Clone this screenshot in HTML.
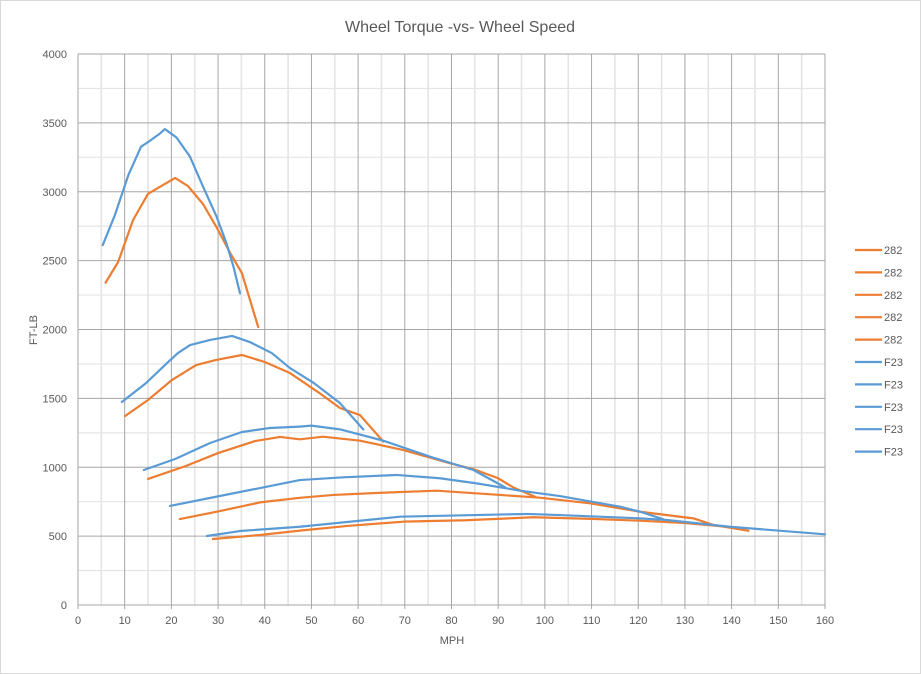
<!DOCTYPE html>
<html><head><meta charset="utf-8"><style>
html,body{margin:0;padding:0;background:#fff;}
svg{display:block;font-family:"Liberation Sans",sans-serif;}
</style></head><body>
<svg id="chart" width="921" height="674" viewBox="0 0 921 674" xmlns="http://www.w3.org/2000/svg">
<rect x="0.5" y="0.5" width="920" height="673" fill="#fff" stroke="#d9d9d9"/>
<text x="460" y="32" text-anchor="middle" font-size="16" fill="#595959">Wheel Torque -vs- Wheel Speed</text>
<g id="grid"></g>
<g id="axes"></g>
<g id="series"></g>
<g id="legend"></g>
<text x="452" y="644" text-anchor="middle" font-size="11" fill="#595959">MPH</text>
<text x="37" y="330" text-anchor="middle" font-size="11" fill="#595959" transform="rotate(-90 37 330)">FT-LB</text>
</svg>
<script>
const xTicks=[0,10,20,30,40,50,60,70,80,90,100,110,120,130,140,150,160];
const yTicks=[0,500,1000,1500,2000,2500,3000,3500,4000];
const seriesNames=["282","282","282","282","282","F23","F23","F23","F23","F23"];
const o1=[[5.9,2340],[8.6,2490],[11.8,2795],[15,2985],[20.8,3100],[23.6,3040],[26.8,2910],[29.8,2735],[32.6,2555],[35.1,2410],[38.6,2018]];
const o2=[[10.1,1372],[15,1488],[20.1,1633],[25.3,1742],[29.6,1779],[35.1,1815],[40,1764],[45.4,1684],[51.4,1546],[56.1,1430],[60.4,1379],[65.4,1186]];
const o3=[[15,915],[23.1,1009],[30,1103],[37.9,1190],[43.3,1220],[47.5,1203],[52.5,1222],[60.4,1193],[69.7,1125],[79.7,1029],[84.7,986],[90,920],[93.2,854],[97.9,786]];
const o4=[[21.8,624],[30.4,682],[39,745],[47.5,778],[54.7,799],[65,815],[76.8,830],[90.4,799],[98.9,779],[109.7,738],[120.4,677],[131.8,629],[136.1,581],[143.6,539]];
const o5=[[28.9,479],[39,508],[47.5,540],[58,575],[69.7,605],[83,615],[97.5,637],[110,625],[120.4,612],[130,595],[140,565]];
const b1=[[5.3,2613],[7.9,2831],[10.8,3122],[13.5,3327],[15.1,3363],[17.6,3424],[18.6,3455],[21.1,3394],[24,3254],[26.8,3036],[29.7,2818],[31.8,2626],[33.3,2456],[34.7,2263]];
const b2=[[9.4,1474],[14.6,1612],[19.1,1757],[21.4,1829],[24,1887],[28.3,1924],[33,1953],[36.8,1909],[41.5,1829],[45.4,1720],[50.5,1612],[56.1,1466],[61.1,1275]];
const b3=[[14.1,980],[20.8,1060],[28.3,1176],[35.1,1256],[41.1,1285],[47.5,1295],[50,1302],[56.1,1275],[65.4,1193],[75.4,1077],[84.7,980],[91.5,854]];
const b4=[[19.7,719],[29.3,784],[39,849],[47.5,907],[56.8,927],[68.2,944],[77.5,920],[85.4,883],[94.7,830],[103.2,791],[116.1,714],[120.4,677],[125.4,622]];
const b5=[[27.6,501],[34.7,537],[47.5,568],[69,641],[96.1,661],[103.2,653],[120.4,629],[126.1,617],[139.6,568],[160,513]];
const orangeData=[o1,o2,o3,o4,o5];
const blueData=[b1,b2,b3,b4,b5];
const NS="http://www.w3.org/2000/svg";
const X0=78,X1=825,Y0=605,Y1=54;
function sx(v){return X0+(v/160)*(X1-X0);}
function sy(v){return Y0-(v/4000)*(Y0-Y1);}
function mk(t,a,p){const e=document.createElementNS(NS,t);for(const k in a)e.setAttribute(k,a[k]);p.appendChild(e);return e;}
const grid=document.getElementById('grid'),axes=document.getElementById('axes'),ser=document.getElementById('series'),leg=document.getElementById('legend');
for(let v=0;v<=160;v+=5){if(v%10===0)continue;const l=mk('line',{x1:sx(v),x2:sx(v),y1:Y1,y2:Y0,stroke:'#e4e4e4','stroke-width':1.6},grid);

}
for(let v=250;v<=4000;v+=500){const l=mk('line',{x1:X0,x2:X1,y1:sy(v),y2:sy(v),stroke:'#e4e4e4','stroke-width':1.2},grid);

}
xTicks.forEach(v=>{const l=mk('line',{x1:sx(v),x2:sx(v),y1:Y1,y2:Y0+4,stroke:'#a6a6a6','stroke-width':1},grid);


const t=mk('text',{x:sx(v),y:Y0+19,'text-anchor':'middle','font-size':11,fill:'#595959'},axes);t.textContent=v;

});
yTicks.forEach(v=>{const l=mk('line',{x1:X0,x2:X1,y1:sy(v),y2:sy(v),stroke:'#a6a6a6','stroke-width':1},grid);


const t=mk('text',{x:X0-11,y:sy(v)+4,'text-anchor':'end','font-size':11,fill:'#595959'},axes);t.textContent=v;

});
function draw(d,c,i){const p=mk('polyline',{points:d.map(q=>sx(q[0])+','+sy(q[1])).join(' '),fill:'none',stroke:c,'stroke-width':2.2,'stroke-linejoin':'round','stroke-linecap':'round'},ser);

}
orangeData.forEach((d,i)=>draw(d,'#ED7D31',i));
blueData.forEach((d,i)=>draw(d,'#5B9BD5',i+5));
seriesNames.forEach((n,i)=>{const y=250+i*22.4;const c=i<5?'#ED7D31':'#5B9BD5';
const g=mk('g',{},leg);


mk('line',{x1:855,x2:882,y1:y,y2:y,stroke:c,'stroke-width':2.2},g);
const t=mk('text',{x:884,y:y+4,'font-size':11,fill:'#595959'},g);t.textContent=n;});
</script>
</body></html>
